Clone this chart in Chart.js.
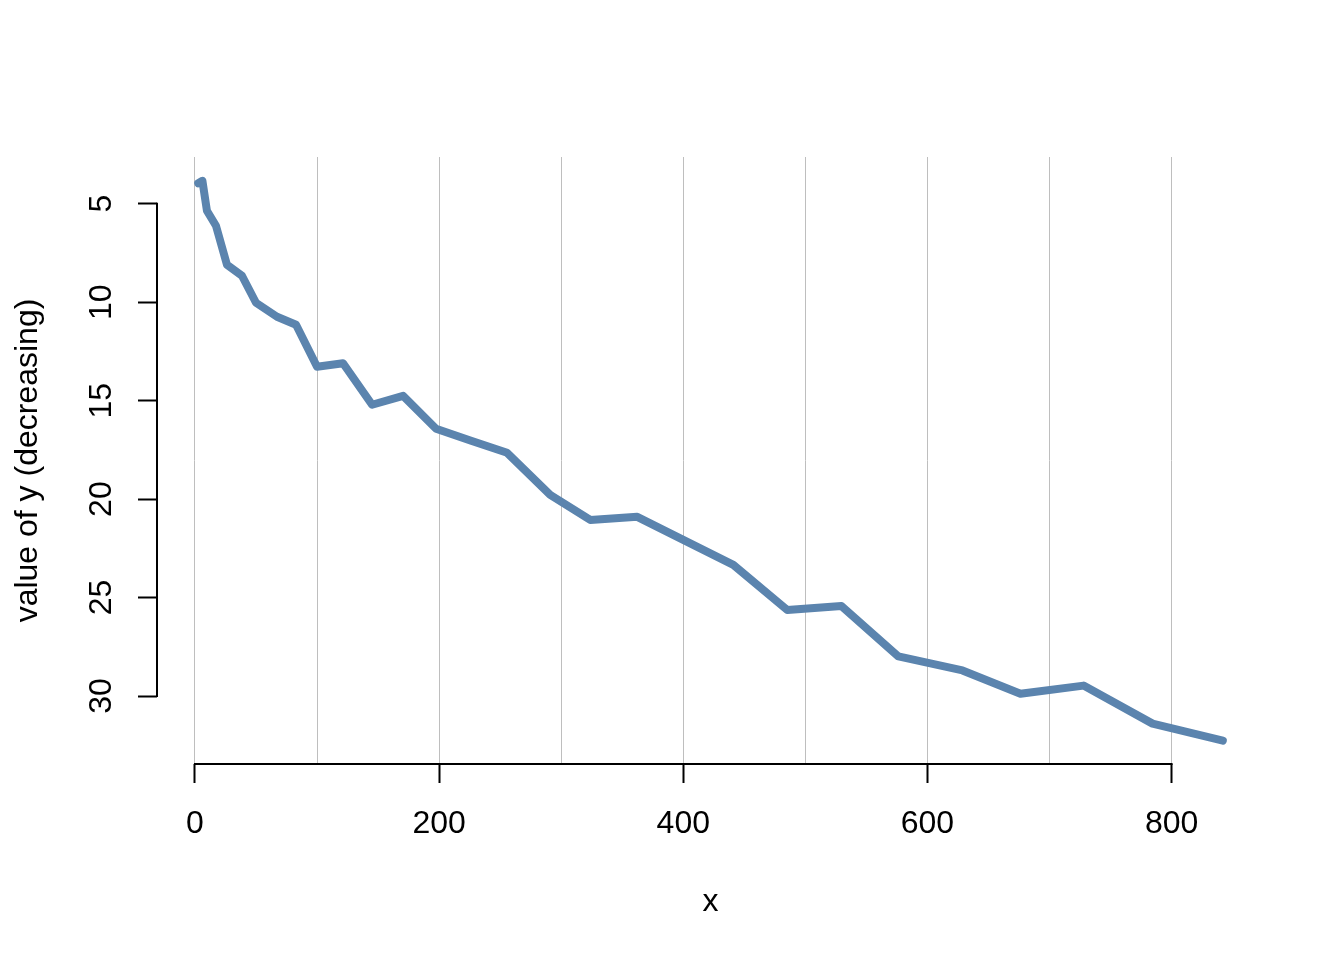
<!DOCTYPE html>
<html>
<head>
<meta charset="utf-8">
<script src="https://cdn.jsdelivr.net/npm/chart.js@4.4.1/dist/chart.umd.min.js"></script>
<style>
  html, body { margin: 0; padding: 0; background: #ffffff; }
  #wrap { width: 1344px; height: 960px; position: relative; }
</style>
</head>
<body>
<div id="wrap"><canvas id="c"></canvas></div>
<script>
// ---- data ----
const xValues = [2.7, 6.1, 9.8, 17.2, 26.2, 38.5, 50.0, 67.2, 82.8, 100.0, 121.3, 145.1, 170.5, 197.5, 226.2, 255.7, 291.0, 323.8, 362.3, 400.0, 441.0, 485.2, 529.5, 576.2, 628.7, 676.2, 727.9, 784.4, 842.0];
const yValues = [3.96, 3.84, 5.36, 6.12, 8.10, 8.66, 10.03, 10.74, 11.15, 13.28, 13.10, 15.21, 14.76, 16.43, 17.04, 17.65, 19.79, 21.06, 20.90, 22.07, 23.34, 25.63, 25.43, 27.99, 28.70, 29.88, 29.47, 31.40, 32.26];
const xGridValues = [0, 100, 200, 300, 400, 500, 600, 700, 800];
const xTickLabels = ['0', '200', '400', '600', '800'];
const yTickValues = [5, 10, 15, 20, 25, 30];
const xTitle = 'x';
const yTitle = 'value of y (decreasing)';

const points = xValues.map((x, i) => ({ x: x, y: yValues[i] }));

Chart.defaults.font.family = "'Liberation Sans', Arial, Helvetica, sans-serif";
Chart.defaults.font.size = 32;
Chart.defaults.color = '#000000';

const rAxes = {
  id: 'rAxes',
  afterDraw(chart) {
    const ctx = chart.ctx;
    const xs = chart.scales.x, ys = chart.scales.y;
    const ca = chart.chartArea;
    ctx.save();
    ctx.strokeStyle = '#000000';
    ctx.lineWidth = 2;
    ctx.lineCap = 'butt';
    const xl = xTickLabels.map(Number);
    ctx.beginPath();
    ctx.moveTo(xs.getPixelForValue(xl[0]) - 1, ca.bottom);
    ctx.lineTo(xs.getPixelForValue(xl[xl.length - 1]) + 1, ca.bottom);
    ctx.stroke();
    ctx.beginPath();
    ctx.moveTo(ca.left, ys.getPixelForValue(yTickValues[0]) - 1);
    ctx.lineTo(ca.left, ys.getPixelForValue(yTickValues[yTickValues.length - 1]) + 1);
    ctx.stroke();
    ctx.restore();
  }
};

new Chart(document.getElementById('c'), {
  type: 'scatter',
  data: {
    datasets: [{
      data: points,
      showLine: true,
      borderColor: '#5b84ae',
      backgroundColor: '#5b84ae',
      borderWidth: 8,
      borderCapStyle: 'round',
      borderJoinStyle: 'round',
      pointRadius: 0,
      pointHoverRadius: 0,
      tension: 0,
      fill: false
    }]
  },
  options: {
    responsive: true,
    maintainAspectRatio: false,
    animation: false,
    events: [],
    layout: { padding: { top: 157, right: 80, left: 0, bottom: 0 } },
    plugins: { legend: { display: false }, tooltip: { enabled: false }, title: { display: false } },
    scales: {
      x: {
        type: 'linear',
        min: -31.1,
        max: 875.7,
        afterFit(scale) { scale.height = 196; },
        afterBuildTicks(scale) { scale.ticks = xGridValues.map(v => ({ value: v })); },
        border: { display: false },
        grid: {
          display: true,
          drawOnChartArea: true,
          drawTicks: true,
          tickLength: 19,
          tickWidth: 2,
          color: '#bebebe',
          lineWidth: 1,
          tickColor: (ctx) => (ctx.tick && xTickLabels.includes(String(ctx.tick.value))) ? '#000000' : 'rgba(0,0,0,0)'
        },
        ticks: {
          autoSkip: false,
          maxRotation: 0,
          minRotation: 0,
          padding: 22,
          color: '#000000',
          font: { size: 32 },
          callback: (v) => xTickLabels.includes(String(v)) ? String(v) : ''
        },
        title: {
          display: true,
          text: xTitle,
          color: '#000000',
          font: { size: 32 },
          padding: { top: 0, bottom: 39 }
        }
      },
      y: {
        type: 'linear',
        reverse: true,
        min: 2.63,
        max: 33.45,
        afterFit(scale) { scale.width = 157; },
        afterBuildTicks(scale) { scale.ticks = yTickValues.map(v => ({ value: v })); },
        border: { display: false },
        grid: {
          display: true,
          drawOnChartArea: false,
          drawTicks: true,
          tickLength: 19,
          tickWidth: 2,
          tickColor: '#000000'
        },
        ticks: {
          autoSkip: false,
          minRotation: 90,
          maxRotation: 90,
          crossAlign: 'center',
          padding: 18,
          color: '#000000',
          font: { size: 32 }
        },
        title: {
          display: true,
          text: yTitle,
          color: '#000000',
          font: { size: 32 },
          padding: { top: 9, bottom: 0 }
        }
      }
    }
  },
  plugins: [rAxes]
});
</script>
</body>
</html>
